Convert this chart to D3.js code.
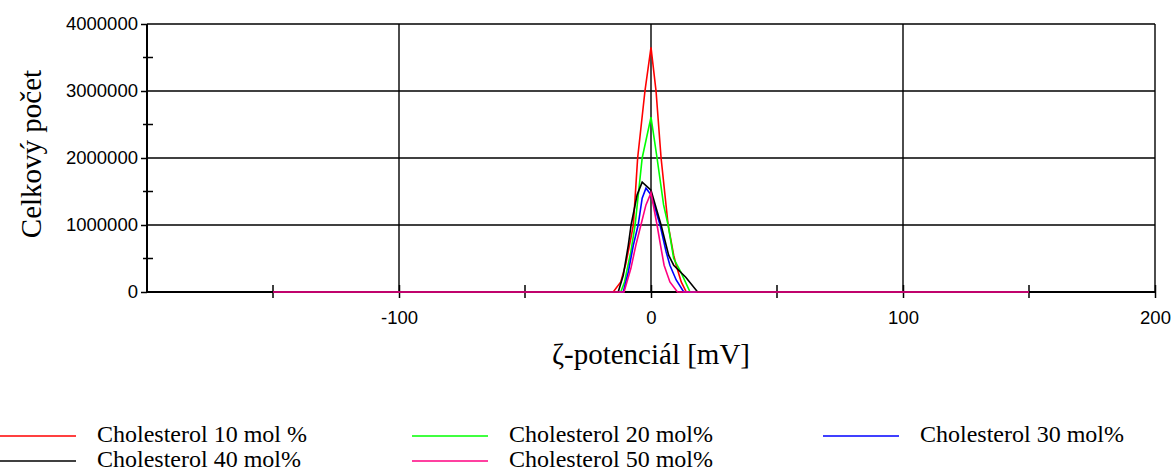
<!DOCTYPE html>
<html>
<head>
<meta charset="utf-8">
<script src="https://cdn.jsdelivr.net/npm/d3@7"></script>
<style>
  body { margin: 0; background: #fff; }
  svg { display: block; }
</style>
</head>
<body>
<div id="chart"></div>
<script>
// series names + colours (legend order)
var seriesNames = ["Cholesterol 10 mol %", "Cholesterol 20 mol%", "Cholesterol 30 mol%", "Cholesterol 40 mol%", "Cholesterol 50 mol%"];
var seriesColors = ["#ff0000", "#00ff00", "#0000ff", "#000000", "#ff0080"];

// zeta potential [mV] vs total count
var chol10 = [[-150,0],[-15,0],[-12,150000],[-10,420000],[-8,800000],[-7,1000000],[-5.3,2000000],[-2.4,3000000],[0,3650000],[2,3000000],[4,2000000],[6.8,1000000],[9,550000],[10,400000],[12,150000],[14,0],[150,0]];
var chol20 = [[-150,0],[-12,0],[-10.5,150000],[-8,600000],[-6.3,1000000],[-3.5,2000000],[0,2610000],[2.4,2000000],[5,1300000],[6.8,1000000],[9,500000],[11.8,300000],[15.5,0],[150,0]];
var chol30 = [[-150,0],[-11,0],[-9,300000],[-7,700000],[-5.1,1000000],[-3.5,1400000],[-2,1550000],[0,1450000],[3.6,1000000],[6,600000],[7.5,400000],[10,180000],[13,0],[150,0]];
var chol40 = [[-150,0],[-13,0],[-11,250000],[-9,700000],[-7.9,1000000],[-5.5,1450000],[-3.5,1640000],[0,1520000],[4,1000000],[7,550000],[9,400000],[13.8,220000],[18.5,0],[150,0]];
var chol50 = [[-150,0],[-10.7,0],[-8,350000],[-6,700000],[-4,1000000],[-2,1300000],[0,1480000],[2.4,1000000],[4,650000],[5.2,400000],[7.5,150000],[10.5,0],[150,0]];
var allSeries = [chol10, chol20, chol30, chol40, chol50];
var drawOrder = [0, 1, 2, 3, 4];

var xTicks = [-100, 0, 100, 200];
var xMinor = [-150, -50, 50, 150];
var yTicks = [0, 1000000, 2000000, 3000000, 4000000];
var yMinor = [500000, 1500000, 2500000, 3500000];

var W = 1171, H = 471;
var svg = d3.select("#chart").append("svg")
    .attr("width", W)
    .attr("height", H);

var x = d3.scaleLinear().domain([-200, 200]).range([147, 1155]);
var y = d3.scaleLinear().domain([0, 4000000]).range([292, 24]);

// plain hyphen for negatives, like the original
var fmt = d => String(d);

// grid
svg.append("g").selectAll("line")
    .data(yTicks.slice(1))
    .enter().append("line")
    .attr("x1", x(-200)).attr("x2", x(200))
    .attr("y1", d => y(d)).attr("y2", d => y(d))
    .attr("stroke", "#000").attr("stroke-width", 1.4);
svg.append("g").selectAll("line")
    .data(xTicks)
    .enter().append("line")
    .attr("x1", d => x(d)).attr("x2", d => x(d))
    .attr("y1", y(0)).attr("y2", y(4000000))
    .attr("stroke", "#000").attr("stroke-width", 1.4);

// axes
var yAxis = svg.append("g")
    .attr("transform", "translate(" + x(-200) + ",0)")
    .call(d3.axisLeft(y).tickValues(yTicks).tickFormat(fmt).tickSize(6).tickPadding(3));
yAxis.select(".domain").attr("stroke-width", 2).attr("d", "M0," + y(0) + "V" + y(4000000));
yAxis.selectAll(".tick line").attr("stroke-width", 1.5);
yAxis.selectAll("text")
    .attr("font-family", "Liberation Sans, Arial, sans-serif")
    .attr("font-size", 18.5).attr("fill", "#000");

svg.append("g").selectAll("line")
    .data(yMinor)
    .enter().append("line")
    .attr("x1", x(-200) - 4).attr("x2", x(-200) + 6)
    .attr("y1", d => y(d)).attr("y2", d => y(d))
    .attr("stroke", "#000").attr("stroke-width", 1.5);

var xAxis = svg.append("g")
    .attr("transform", "translate(0," + y(0) + ")")
    .call(d3.axisBottom(x).tickValues(xTicks).tickFormat(fmt).tickSize(6).tickPadding(13));
xAxis.select(".domain").attr("stroke-width", 2).attr("d", "M" + x(-200) + ",0H" + x(200));
xAxis.selectAll(".tick line").attr("y1", -7).attr("y2", 6).attr("stroke-width", 1.5);
xAxis.selectAll("text")
    .attr("font-family", "Liberation Sans, Arial, sans-serif")
    .attr("font-size", 18.5).attr("fill", "#000");

svg.append("g").selectAll("line")
    .data(xMinor)
    .enter().append("line")
    .attr("x1", d => x(d)).attr("x2", d => x(d))
    .attr("y1", y(0) - 7).attr("y2", y(0) + 6)
    .attr("stroke", "#000").attr("stroke-width", 1.5);

// series
var line = d3.line().x(d => x(d[0])).y(d => y(d[1]));
drawOrder.forEach(function(i) {
    svg.append("path")
        .datum(allSeries[i])
        .attr("d", line)
        .attr("fill", "none")
        .attr("stroke", seriesColors[i])
        .attr("stroke-width", 1.6);
});

// axis titles
svg.append("text")
    .attr("transform", "translate(41,154) rotate(-90)")
    .attr("text-anchor", "middle")
    .attr("font-family", "Liberation Serif, Times New Roman, serif")
    .attr("font-size", 29)
    .text("Celkový počet");

svg.append("text")
    .attr("x", 651).attr("y", 364)
    .attr("text-anchor", "middle")
    .attr("font-family", "Liberation Serif, Times New Roman, serif")
    .attr("font-size", 29)
    .text("ζ-potenciál [mV]");

// legend
var legPos = [[0, 436], [412, 436], [823, 436], [0, 461], [412, 461]];
seriesNames.forEach(function(name, i) {
    var p = legPos[i];
    var g = svg.append("g").attr("transform", "translate(" + p[0] + "," + p[1] + ")");
    g.append("line")
        .attr("x1", 0).attr("x2", 76)
        .attr("stroke", seriesColors[i]).attr("stroke-width", 1.5);
    g.append("text")
        .attr("x", 97).attr("y", 6)
        .attr("font-family", "Liberation Serif, Times New Roman, serif")
        .attr("font-size", 24)
        .text(name);
});
</script>
</body>
</html>
